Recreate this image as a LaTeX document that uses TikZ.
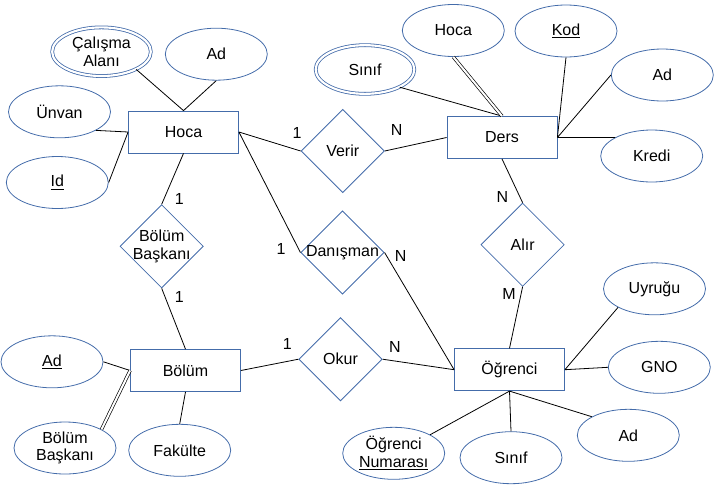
\documentclass[tikz,border=0pt]{standalone}
\usepackage{fontspec}
\setmainfont{Liberation Sans}
\usepackage{tikz}
\usetikzlibrary{shapes.geometric}
\definecolor{bord}{RGB}{68,108,170}

\begin{document}
\begin{tikzpicture}[x=0.75pt, y=-0.75pt,
    line width=0.6pt,
    font=\fontsize{12}{13}\selectfont,
  ent/.style = {rectangle, draw=bord,% entities
                minimum width=82.5pt, minimum height=31.5pt},
 attr/.style = {ellipse, draw=bord, align=center,% attributes
                minimum width=76.5pt, minimum height=39pt, inner sep=0pt},
multi/.style = {attr, double, double distance=1.6pt,% multi valued attributes
                minimum width=74pt, minimum height=36.5pt},
  rel/.style = {diamond, draw=bord,% relations, text goes in a label
                minimum width=62.5pt, minimum height=62.5pt, inner sep=0pt},
 card/.style = {inner sep=0pt},
dlink/.style = {double, double distance=1.5pt, line width=0.5pt},
                        ]
\useasboundingbox (0,0) rectangle (720,493);
% entities
\node[ent] (hoca)  at (183.5,132)   {Hoca};
\node[ent] (ders)  at (502,137.5)   {Ders};
\node[ent] (bolum) at (185.5,370.5) {Bölüm};
\node[ent] (ogr)   at (509.5,369.7) {Öğrenci};
% relations
\node[rel, label=center:Verir]    (verir) at (342.7,151)   {};
\node[rel, label={[align=center]center:Bölüm\\Başkanı}] (bbrel) at (161.7,246.3) {};
\node[rel, label=center:Danışman] (dan)   at (342.5,252.5) {};
\node[rel, label=center:Alır]     (alir)  at (522.6,244.7) {};
\node[rel, label=center:Okur]     (okur)  at (340.5,359.2) {};
% attributes
\node[multi] (calis)  at (101.5,51.7) {Çalışma\\Alanı};
\node[multi] (dsinif) at (365,69.5)   {Sınıf};
\foreach \nm/\x/\y/\txt in {had/216.3/54.2/Ad, unvan/59.5/111.8/Ünvan,
        hid/57.3/182.5/{\underline{Id}}, dhoca/453.3/30.5/Hoca,
        dkod/566/31/{\underline{Kod}}, dad/662.3/75/Ad, kredi/651.7/156/Kredi,
        bad/52/361.8/{\underline{Ad}}, bbas/65/448/{Bölüm\\Başkanı},
        fak/179.7/450.3/Fakülte, uyr/654.5/288.8/Uyruğu, gno/659.3/367.3/GNO,
        oad/628.3/435.3/Ad, osinif/511/457.7/Sınıf,
        onum/393.7/453.3/{Öğrenci\\\underline{Numarası}}}% <-- name/x/y/text
    \node[attr] (\nm) at (\x,\y) {\txt};
% cardinalities
\node[card] (c1)  at (297,132.7)   {1};
\node[card] (c2)  at (396.7,130)   {N};
\node[card] (c3)  at (179.3,199.3) {1};
\node[card] (c4)  at (179.3,296.7) {1};
\node[card] (c5)  at (281,249)     {1};
\node[card] (c6)  at (400.7,256)   {N};
\node[card] (c7)  at (502.3,197.3) {N};
\node[card] (c8)  at (509,294.3)   {M};
\node[card] (c9)  at (287.3,344.3) {1};
\node[card] (c10) at (395,346.7)   {N};
% links
\draw (hoca.north) -- (calis.-27)  (hoca.north) -- (had.south)
      (hoca.west) -- (unvan.-27)   (hoca.west) -- (hid.east)
      (hoca.south) -- (bbrel.north) (hoca.east) -- (verir.west)
      (hoca.east) -- (dan.west);
\draw (verir.east) -- (ders.west)  (ders.north) -- (dsinif.-27)
      (ders.east) -- (dkod.south)  (ders.east) -- (dad.west)
      (ders.east) -- (kredi.153)   (ders.south) -- (alir.north);
\draw[dlink] (ders.north) -- (dhoca.south);
\draw (alir.south) -- (ogr.north)  (dan.east) -- (ogr.west)
      (okur.east) -- (ogr.west)    (ogr.east) -- (uyr.207)
      (ogr.east) -- (gno.west)     (ogr.south) -- (oad.153)
      (ogr.south) -- (osinif.north) (ogr.south) -- (onum.27);
\draw (bbrel.south) -- (bolum.north) (okur.west) -- (bolum.east)
      (bolum.west) -- (bad.east)   (bolum.south) -- (fak.north);
\draw[dlink] (bolum.west) -- (bbas.27);
\end{tikzpicture}
\end{document}
